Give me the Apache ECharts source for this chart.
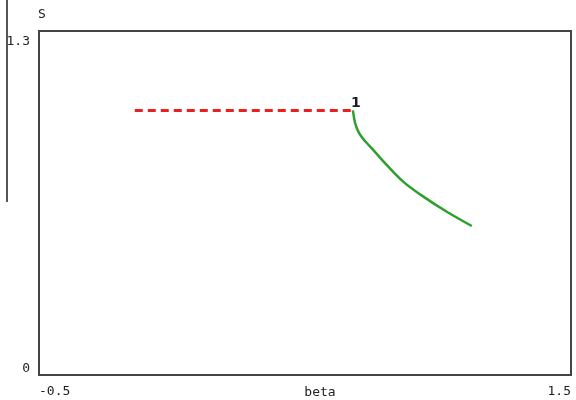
<!DOCTYPE html>
<html>
<head>
<meta charset="utf-8">
<script src="https://cdn.jsdelivr.net/npm/echarts@6/dist/echarts.min.js"></script>
<style>html,body{margin:0;padding:0;background:#fff}#c{width:576px;height:400px}</style>
</head>
<body>
<div id="c"></div>
<script>
const xTickLabels = ['-0.5', '1.5'];
const yTickLabels = ['0', '1.3'];
const redBeta = [-0.14, 0.68];
const redS = [1.0, 1.0];
const greenBeta = [0.68, 0.689, 0.703, 0.722, 0.757, 0.807, 0.870, 0.945, 1.033, 1.127];
const greenS = [1.0, 0.95, 0.915, 0.888, 0.850, 0.794, 0.730, 0.674, 0.617, 0.563];
const endLabel = '1';
const xName = 'beta';
const yName = 'S';

const font = 'DejaVu Sans Mono';
const chart = echarts.init(document.getElementById('c'), null, {renderer: 'canvas'});
function near(v, labels) {
  for (const l of labels) if (Math.abs(v - parseFloat(l)) < 1e-6) return l;
  return '';
}
chart.setOption({
  animation: false,
  backgroundColor: '#fff',
  grid: {left: 39, right: 5, top: 31, bottom: 25, show: true, borderColor: '#444', borderWidth: 2,
    containLabel: false, outerBoundsMode: 'none'},
  xAxis: {
    type: 'value', min: -0.5, max: 1.5, interval: 0.5,
    name: xName, nameLocation: 'middle', nameGap: 11, nameMoveOverlap: false,
    nameTextStyle: {fontFamily: font, fontSize: 13, color: '#222', padding: [0, 0, 0, 30]},
    axisLine: {show: false}, axisTick: {show: false}, splitLine: {show: false},
    axisLabel: {fontFamily: font, fontSize: 13, color: '#222', margin: 10,
      alignMinLabel: 'left', alignMaxLabel: 'right',
      formatter: v => near(v, xTickLabels)}
  },
  yAxis: {
    type: 'value', min: 0, max: 1.3, interval: 0.1,
    axisLine: {show: false}, axisTick: {show: false}, splitLine: {show: false},
    axisLabel: {fontFamily: font, fontSize: 13, color: '#222', margin: 9, padding: [4, 0, 0, 0],
      verticalAlignMinLabel: 'bottom', verticalAlignMaxLabel: 'top',
      formatter: v => near(v, yTickLabels)}
  },
  series: [
    {
      type: 'line', data: redBeta.map((b, i) => [b, redS[i]]), symbol: 'none',
      lineStyle: {color: '#e8201f', width: 3, type: [8, 5]},
      endLabel: {show: true, formatter: endLabel, fontFamily: 'DejaVu Sans', fontWeight: 'bold', fontSize: 14, color: '#1a1a2a', offset: [-10, -7]}
    },
    {
      type: 'line', data: greenBeta.map((b, i) => [b, greenS[i]]), symbol: 'none', smooth: 0.3,
      lineStyle: {color: '#2ca02c', width: 2.5}
    }
  ],
  graphic: [
    {type: 'line', shape: {x1: 7, y1: 0, x2: 7, y2: 202}, style: {stroke: '#555', lineWidth: 2}},
    {type: 'text', x: 38, y: 8, style: {text: yName, font: '13px "DejaVu Sans Mono"', fill: '#222'}}
  ]
});
</script>
</body>
</html>
